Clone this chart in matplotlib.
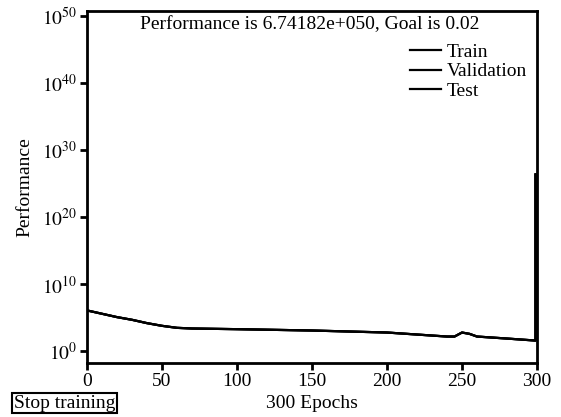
import numpy as np
import matplotlib.pyplot as plt
from matplotlib.ticker import FixedLocator, FuncFormatter

plt.rcParams['font.family'] = ['Liberation Serif', 'DejaVu Serif']
plt.rcParams['mathtext.fontset'] = 'stix'

# performance curve (log10 of value)
epochs = [0, 10, 20, 30, 40, 50, 60, 70, 100, 150, 200, 240, 245, 250, 255, 260, 280, 299, 299]
perf_log = [6.1, 5.6, 5.1, 4.7, 4.2, 3.8, 3.5, 3.4, 3.3, 3.1, 2.8, 2.2, 2.2, 2.8, 2.6, 2.2, 1.9, 1.6, 26.4]
perf = [10.0 ** v for v in perf_log]

legend_labels = ['Train', 'Validation', 'Test']
yticks = [1e0, 1e10, 1e20, 1e30, 1e40, 1e50]
xticks = [0, 50, 100, 150, 200, 250, 300]

fig = plt.figure(figsize=(5.61, 4.17), dpi=100)
ax = fig.add_axes([87 / 561, 1 - 363 / 417, 450 / 561, 352 / 417])

for lab in legend_labels:
    ax.plot(epochs, perf, color='black', lw=1.6, label=lab)

ax.set_yscale('log')
ax.set_xlim(0, 300)
ax.set_ylim(10 ** -1.75, 10 ** 50.8)
ax.yaxis.set_major_locator(FixedLocator(yticks))
ax.yaxis.set_minor_locator(FixedLocator([]))
ax.yaxis.set_major_formatter(FuncFormatter(
    lambda v, p: r'$10^{%d}$' % round(np.log10(v))))
ax.set_xticks(xticks)

for s in ax.spines.values():
    s.set_linewidth(2)
ax.tick_params(direction='out', length=5, width=2, labelsize=14, pad=2)

ax.text(0.495, 0.985, 'Performance is 6.74182e+050, Goal is 0.02',
        transform=ax.transAxes, ha='center', va='top', fontsize=14)

ax.legend(loc='upper right', bbox_to_anchor=(1.0, 0.935), frameon=False,
          fontsize=14, handlelength=1.6, handletextpad=0.3,
          labelspacing=0.08, borderaxespad=0.1)

ax.set_xlabel('300 Epochs', fontsize=14, labelpad=4)
ax.set_ylabel('Performance', fontsize=14, labelpad=6)

fig.text(14 / 561, 1 - 403 / 417, 'Stop training', fontsize=14,
         ha='left', va='center',
         bbox=dict(boxstyle='square,pad=0.08', fc='white', ec='black', lw=1.5))

fig.savefig('out.png', dpi=100)
